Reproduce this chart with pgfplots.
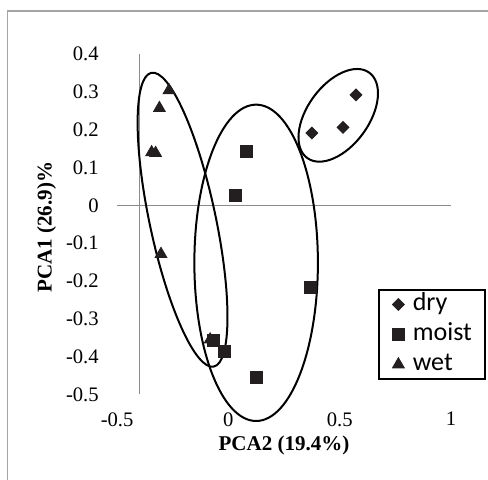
\documentclass[border=0pt]{standalone}
\usepackage{fontspec}
\setmainfont{Liberation Serif}
\newfontfamily\carlito{Carlito}
\usepackage{pgfplots}
\pgfplotsset{compat=1.18}
\usetikzlibrary{shapes.geometric}
\definecolor{axgray}{RGB}{140,140,140}
\definecolor{framegray}{RGB}{165,165,165}
\definecolor{mk}{RGB}{35,31,32}
\begin{document}
\begin{tikzpicture}
\path[use as bounding box] (-58.5pt,-42.5pt) rectangle (185.25pt,197pt);
\draw[framegray, line width=0.6pt] (-54.85pt,-60pt) -- (-54.85pt,191.5pt) -- (210pt,191.5pt);
\begin{axis}[
  at={(0pt,0pt)}, anchor=south west,
  scale only axis, width=166.75pt, height=170pt,
  xmin=-0.5, xmax=1, ymin=-0.5, ymax=0.4,
  clip=false,
  axis line style={draw=none},
  xtick={-0.5,0,0.5,1}, xticklabels={-0.5,0,0.5,1},
  ytick={-0.5,-0.4,-0.3,-0.2,-0.1,0,0.1,0.2,0.3,0.4},
  yticklabels={-0.5,-0.4,-0.3,-0.2,-0.1,0,0.1,0.2,0.3,0.4},
  major tick length=0pt,
  tick label style={font=\fontsize{10.3}{12}\selectfont},
  xticklabel style={anchor=north, inner sep=0pt, yshift=-8.75pt},
  yticklabel style={anchor=east, inner sep=0pt, xshift=-9pt},
  xlabel={PCA2 (19.4\%)}, ylabel={PCA1 (26.9)\%},
  label style={font=\fontsize{10.5}{12}\selectfont\bfseries},
  xlabel style={at={(axis description cs:0.5,-0.15)}, anchor=center},
  ylabel style={at={(axis description cs:-0.211,0.491)}, anchor=center},
  legend style={at={(axis description cs:0.7826,0.3088)}, anchor=north west,
    draw=black, line width=0.6pt, inner xsep=6.5pt, inner ysep=1.5pt,
    font=\carlito\fontsize{13}{15}\selectfont,
    nodes={inner sep=0pt, text height=9pt, text depth=2.5pt},
    row sep=3.5pt, column sep=4pt},
  legend cell align=left,
  legend image code/.code={\path[draw=none,fill=none] (-3.2pt,-3pt) rectangle (3.2pt,3pt); \draw[#1] plot coordinates {(0pt,0pt)};},
]
\draw[axgray, line width=0.6pt] (axis cs:-0.5,0) -- (axis cs:1,0);
\draw[axgray, line width=0.6pt] (axis cs:-0.4,-0.5) -- (axis cs:-0.4,0.4);

\addplot[only marks, color=mk, mark=square*, mark size=2.1pt, mark options={rotate=45, fill=mk, draw=mk, line width=0.4pt}]
  coordinates {(0.375,0.191) (0.515,0.206) (0.573,0.292)};
\addlegendentry{dry}
\addplot[only marks, color=mk, mark=square*, mark size=3pt, mark options={fill=mk, draw=mk, line width=0.4pt}]
  coordinates {(0.083,0.142) (0.033,0.025) (0.368,-0.218) (-0.067,-0.357) (-0.018,-0.387) (0.125,-0.456)};
\addlegendentry{moist}
\addplot[only marks, color=mk, mark=triangle*, mark size=3.4pt, mark options={fill=mk, draw=mk, line width=0.4pt}]
  coordinates {(-0.267,0.304) (-0.310,0.257) (-0.345,0.140) (-0.327,0.138) (-0.303,-0.129) (-0.082,-0.355)};
\addlegendentry{wet}

\node[draw=black, line width=1pt, ellipse, inner sep=0pt, minimum width=33pt, minimum height=150pt, rotate=12] at (axis cs:-0.206,-0.038) {};
\node[draw=black, line width=1pt, ellipse, inner sep=0pt, minimum width=61.7pt, minimum height=158pt] at (axis cs:0.1246,-0.152) {};
\node[draw=black, line width=1pt, ellipse, inner sep=0pt, minimum width=52.7pt, minimum height=30.7pt, rotate=54] at (axis cs:0.4935,0.238) {};
\end{axis}
\end{tikzpicture}
\end{document}
